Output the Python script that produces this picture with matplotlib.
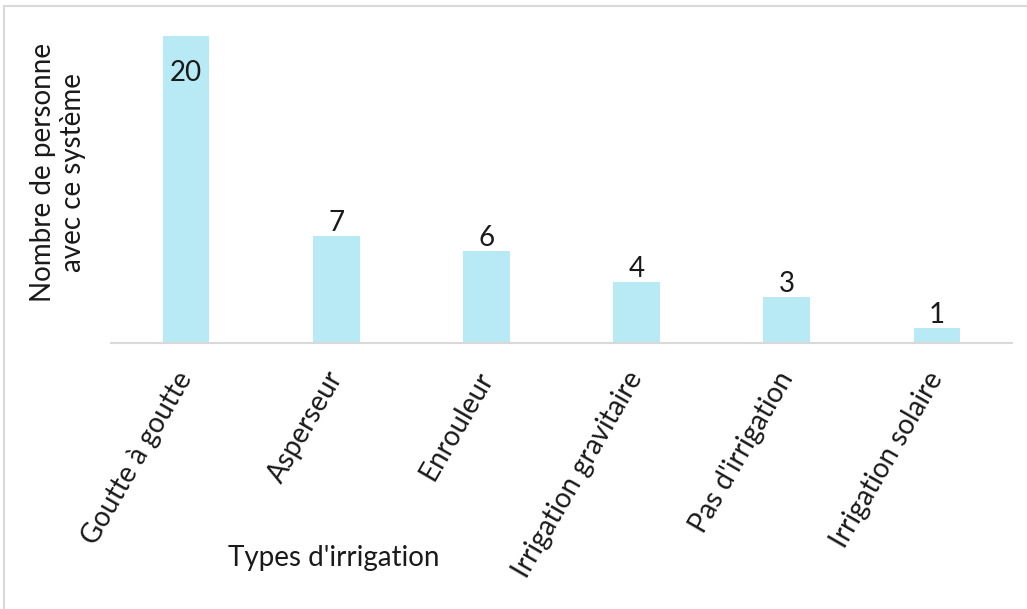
import matplotlib
matplotlib.use("Agg")
import matplotlib.pyplot as plt
from matplotlib.patches import Rectangle

categories = ["Goutte à goutte", "Asperseur", "Enrouleur", "Irrigation gravitaire",
              "Pas d'irrigation", "Irrigation solaire"]
values = [20, 7, 6, 4, 3, 1]

plt.rcParams['font.family'] = ['Lato', 'DejaVu Sans']

W, H = 1027, 609
fig = plt.figure(figsize=(W / 100, H / 100), dpi=100)
fig.patches.append(Rectangle((4 / W, -0.1), 1.2, 1 - 6 / H + 0.1, transform=fig.transFigure,
                             fill=False, edgecolor='#d9d9d9', linewidth=1.5))

FS = 20
x0, x1 = 111, 1012
ybase, ytop = 343, 20
ax = fig.add_axes([x0 / W, 1 - ybase / H, (x1 - x0) / W, (ybase - ytop) / H])
ppu = (343 - 36) / 20.0
ax.set_ylim(0, (ybase - ytop) / ppu)
ax.set_xlim(-0.5, len(categories) - 0.5)

bars = ax.bar(range(len(categories)), values, width=0.31, color='#b7eaf4')
for i, v in enumerate(values):
    if v == max(values):
        ax.text(i, v - 2.4, str(v), ha='center', va='center', fontsize=FS, color='#1a1a1a')
    else:
        ax.text(i, v, str(v), ha='center', va='bottom', fontsize=FS, color='#1a1a1a')

for s in ['top', 'right', 'left']:
    ax.spines[s].set_visible(False)
ax.spines['bottom'].set_color('#d9d9d9')
ax.spines['bottom'].set_linewidth(1.5)
ax.set_yticks([])
ax.set_xticks(range(len(categories)))
ax.set_xticklabels(categories, rotation=60, ha='right', va='center', rotation_mode='anchor',
                   fontsize=FS, color='#1a1a1a')
ax.tick_params(axis='x', length=0, pad=22)

fig.text(58 / W, 1 - 172 / H, "Nombre de personne\navec ce système", rotation=90,
         ha='center', va='center', fontsize=FS, color='#1a1a1a', linespacing=1.2)
fig.text(334 / W, 1 - 558 / H, "Types d'irrigation", ha='center', va='center',
         fontsize=FS, color='#1a1a1a')

fig.savefig("out.png", dpi=100)
